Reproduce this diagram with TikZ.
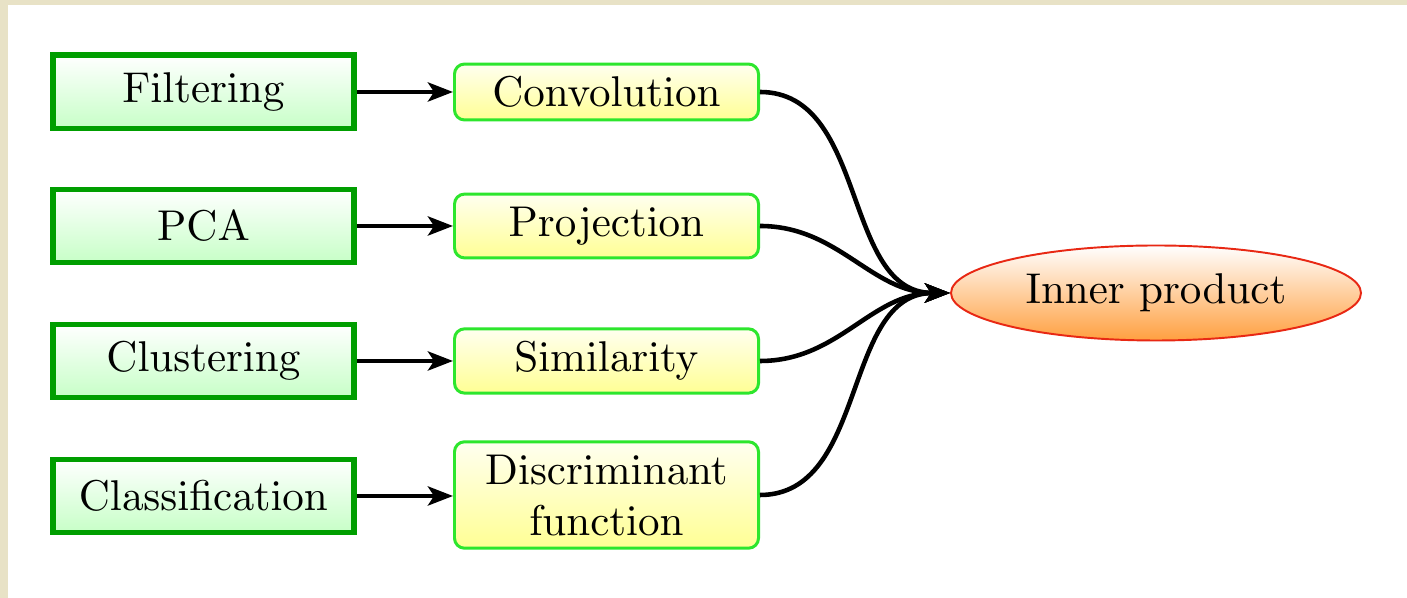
\documentclass[tikz,border=0pt]{standalone}
\usepackage{tikz}
\usetikzlibrary{
    arrows.meta,
    shapes.geometric
}
\definecolor{parchment}{RGB}{232,226,198}
\definecolor{boxgreen}{RGB}{0,158,0}
\definecolor{limegreen}{RGB}{45,230,45}
\definecolor{ovalred}{RGB}{232,40,20}
\font\bigrm=cmr10 at 24.5pt
\newcommand{\bigfont}{\bigrm\baselineskip=29pt}
\tikzset{
    task/.style={draw=boxgreen, line width=3.4pt, top color=white,
        bottom color=green!22, minimum width=6.02cm, minimum height=1.46cm,
        font=\bigfont},
    tool/.style={draw=limegreen, line width=1.7pt, rounded corners=0.2cm,
        top color=yellow!6, bottom color=yellow!42, minimum width=6.08cm,
        inner ysep=0.26cm, align=center, font=\bigfont},
    core/.style={ellipse, draw=ovalred, line width=1.1pt, top color=white,
        bottom color=orange!75, minimum width=8.2cm, minimum height=1.9cm,
        inner sep=0pt, font=\bigfont},
    link/.style={line width=2.6pt,
        -{Stealth[length=0.5cm, width=0.38cm, inset=0.12cm]}}
}

\begin{document}
\begin{tikzpicture}
\useasboundingbox (0,0) rectangle (28.14,11.96);
\fill[parchment] (0,0) rectangle (28.14,11.96);
\fill[white] (0.16,0) rectangle (28.14,11.86);
%%
\node[task] (Filt) at (4.07,10.12) {Filtering};
\node[task] (PCA)  at (4.07,7.44)  {PCA};
\node[task] (Clus) at (4.07,4.74)  {Clustering};
\node[task] (Clas) at (4.07,2.04)  {Classification};
%%
\node[tool] (Conv) at (12.13,10.12) {Convolution};
\node[tool] (Proj) at (12.13,7.44)  {Projection};
\node[tool] (Simi) at (12.13,4.74)  {Similarity};
\node[tool] (Disc) at (12.13,2.06)  {Discriminant\\function};
%%
\node[core] (Inner) at (23.12,6.10) {Inner product};
%
\draw[link] (Filt) -- (Conv);
\draw[link] (PCA)  -- (Proj);
\draw[link] (Clus) -- (Simi);
\draw[link] (Clas.east) -- (Clas.east -| Disc.west);
%
\draw[link] (Conv.east) to[out=0,in=180] (Inner.west);
\draw[link] (Proj.east) to[out=0,in=180] (Inner.west);
\draw[link] (Simi.east) to[out=0,in=180] (Inner.west);
\draw[link] (Disc.east) to[out=0,in=180] (Inner.west);
\end{tikzpicture}
\end{document}
